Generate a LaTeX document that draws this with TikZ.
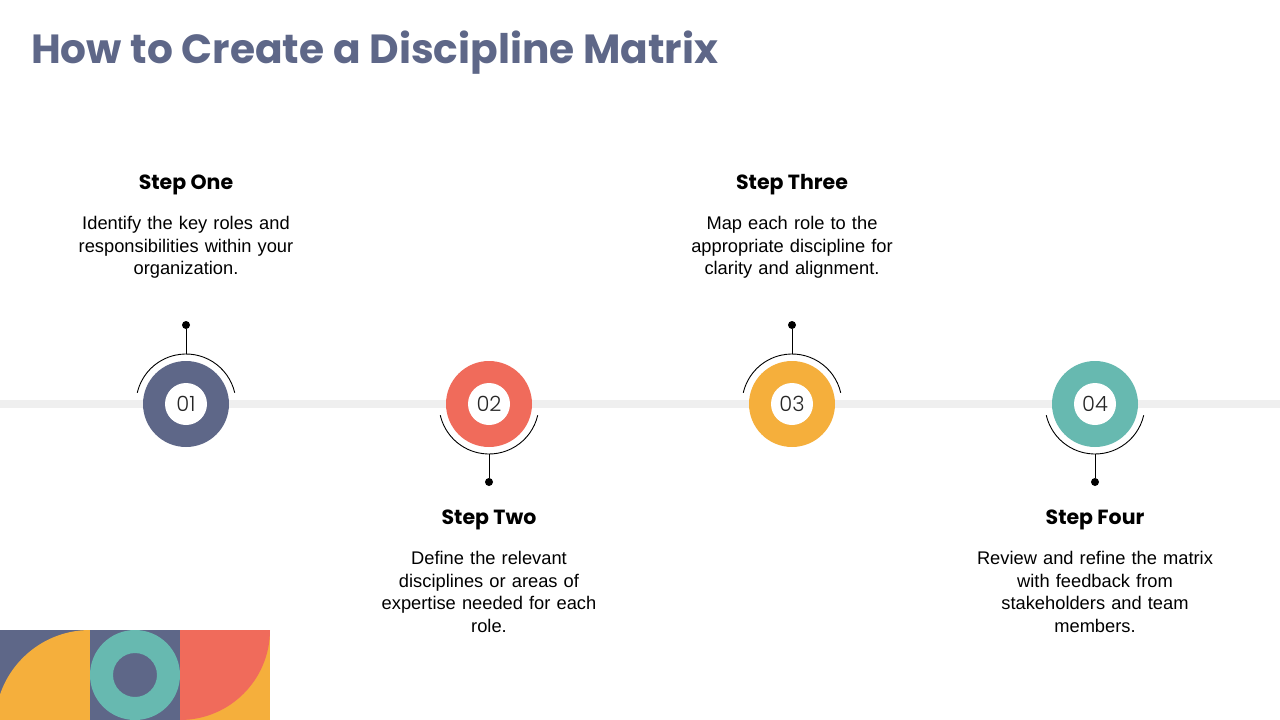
\documentclass[tikz,border=0pt]{standalone}
\usepackage{fontspec}
\usetikzlibrary{calc}
\setmainfont{Liberation Sans}
\newfontfamily\headfont{Poppins}
\newfontfamily\numfont{Poppins Light}
\definecolor{slate}{HTML}{5E6788}
\definecolor{coral}{HTML}{F06B5B}
\definecolor{sun}{HTML}{F5AF3C}
\definecolor{teal}{HTML}{67B9B0}
\definecolor{band}{HTML}{EFEFEF}
\tikzset{
  outerdisc/.style={circle, minimum size=86pt, inner sep=0pt},
  innerdisc/.style={circle, fill=white, minimum size=42pt, inner sep=0pt, font=\numfont\fontsize{21}{21}\selectfont, text=black!85},
  dotnode/.style={circle, fill=black, minimum size=8pt, inner sep=0pt},
  armline/.style={draw=black, line width=0.9pt},
  heading/.style={font=\headfont\bfseries\fontsize{20.5}{24}\selectfont, anchor=base, inner sep=0pt},
  bodytext/.style={font=\fontsize{18.3}{22.7}\selectfont, align=center, anchor=north, inner sep=0pt, text width=260pt},
}
\begin{document}
\begin{tikzpicture}[x=1pt,y=-1pt]
\useasboundingbox (0,0) rectangle (1280,720);
% title
\node[anchor=west, inner sep=0pt, text=slate, font=\headfont\bfseries\fontsize{40.7}{46}\selectfont] (title) at (31,53) {How to Create a Discipline Matrix};
% band
\fill[band] (0,400) rectangle (1280,408);
% discs
\foreach \i/\x/\col/\num in {1/186/slate/01, 2/489/coral/02, 3/792/sun/03, 4/1095/teal/04}{
  \node[outerdisc, fill=\col] (c\i) at (\x,404) {};
  \node[innerdisc] (n\i) at (c\i) {\num};
}
% arcs
\draw[armline] ($(c1)+(-13:50)$) arc[start angle=-13, end angle=-167, radius=50];
\draw[armline] ($(c3)+(-13:50)$) arc[start angle=-13, end angle=-167, radius=50];
\draw[armline] ($(c2)+(13:50)$) arc[start angle=13, end angle=167, radius=50];
\draw[armline] ($(c4)+(13:50)$) arc[start angle=13, end angle=167, radius=50];
% arc tips and dots
\coordinate (t1) at ($(c1)+(0,-50)$);
\coordinate (t3) at ($(c3)+(0,-50)$);
\coordinate (t2) at ($(c2)+(0,50)$);
\coordinate (t4) at ($(c4)+(0,50)$);
\node[dotnode] (d1) at (186,325) {};
\node[dotnode] (d3) at (792,325) {};
\node[dotnode] (d2) at (489,482) {};
\node[dotnode] (d4) at (1095,482) {};
\draw[armline] (t1) -- (d1);
\draw[armline] (t3) -- (d3);
\draw[armline] (t2) -- (d2);
\draw[armline] (t4) -- (d4);
% texts
\node[heading] (h1) at (186,189) {Step One};
\node[bodytext] (b1) at (186,216) {Identify the key roles and\\responsibilities within your\\organization.};
\node[heading] (h3) at (792,189) {Step Three};
\node[bodytext] (b3) at (792,216) {Map each role to the\\appropriate discipline for\\clarity and alignment.};
\node[heading] (h2) at (489,524) {Step Two};
\node[bodytext] (b2) at (489,551) {Define the relevant\\disciplines or areas of\\expertise needed for each\\role.};
\node[heading] (h4) at (1095,524) {Step Four};
\node[bodytext] (b4) at (1095,551) {Review and refine the matrix\\with feedback from\\stakeholders and team\\members.};
% decoration
\begin{scope}
  \clip (0,630) rectangle (90,720);
  \fill[slate] (0,630) rectangle (90,720);
  \fill[sun] (90,725) circle[radius=95];
\end{scope}
\fill[slate] (90,630) rectangle (180,720);
\fill[teal, even odd rule] (135,675) circle[radius=45] (135,675) circle[radius=22];
\begin{scope}
  \clip (180,630) rectangle (270,720);
  \fill[sun] (180,630) rectangle (270,720);
  \fill[coral] (180,630) circle[radius=90];
\end{scope}
\end{tikzpicture}
\end{document}
